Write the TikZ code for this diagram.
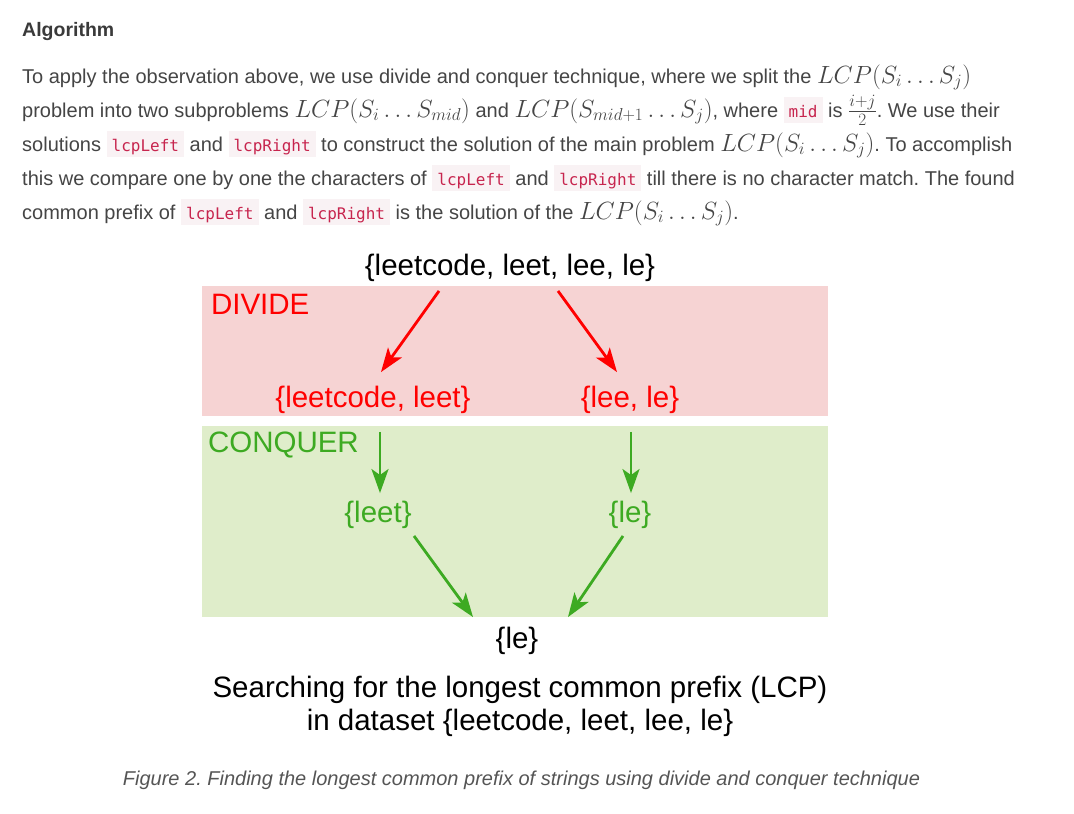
\documentclass[tikz,border=0pt]{standalone}
\usepackage[no-math]{fontspec}
\setmainfont{Liberation Sans}
\newfontfamily\codefont{DejaVu Sans Mono}
\usepackage{xcolor}
\usepackage{tikz}
\usetikzlibrary{arrows.meta,positioning,calc}
\definecolor{headgray}{HTML}{3A3A3A}
\definecolor{bodygray}{HTML}{454545}
\definecolor{capgray}{HTML}{555555}
\definecolor{codebg}{HTML}{F9F2F4}
\definecolor{codefg}{HTML}{C7254E}
\definecolor{divbg}{HTML}{F6D3D3}
\definecolor{conbg}{HTML}{DFEDCA}
\definecolor{divred}{HTML}{FF0000}
\definecolor{congreen}{HTML}{3DAA22}
\frenchspacing
\newcommand{\mth}[1]{{\fontsize{24.2}{24}\selectfont$#1$}}
\newcommand{\code}[1]{{\setlength{\fboxsep}{0pt}\colorbox{codebg}{\hspace{5pt}\rule[-6pt]{0pt}{26pt}{\fontsize{16}{16}\codefont\color{codefg}#1}\hspace{5pt}}}}
\tikzset{
  head/.style={font=\fontsize{19.5}{22}\selectfont\bfseries, text=headgray, anchor=base west, inner sep=0pt},
  body/.style={font=\fontsize{20}{24}\selectfont, text=bodygray, anchor=base west, inner sep=0pt},
  panel/.style={minimum width=626pt, inner sep=0pt},
  set/.style={font=\fontsize{29.5}{33}\selectfont, inner sep=0pt},
  divset/.style={set, text=divred},
  conset/.style={set, text=congreen},
  lab/.style={set, anchor=west},
  arr/.style={-{Stealth[length=24pt,width=17pt,inset=6pt]}, line width=2.8pt},
  divarr/.style={arr, draw=divred},
  conarr/.style={arr, draw=congreen},
  caption/.style={font=\fontsize{20}{24}\selectfont\itshape, text=capgray, inner sep=0pt}
}
\begin{document}
\begin{tikzpicture}[x=1pt, y=-1pt]
\fill[white] (0,0) rectangle (1074,814);
\useasboundingbox (0,0) rectangle (1074,814);

% text above the figure
\node[head] (algo) at (22,36) {Algorithm};
\node[body] (l1) at (22,83) {To apply the observation above, we use divide and conquer technique, where we split the \mth{LCP(S_i\ldots S_j)}};
\node[body] (l2) at ([yshift=-34pt]l1.base west) {problem into two subproblems \mth{LCP(S_i\ldots S_{mid})} and \mth{LCP(S_{mid+1}\ldots S_j)}, where \code{mid} is \mth{\frac{i+j}{2}}. We use their};
\node[body] (l3) at ([yshift=-34pt]l2.base west) {solutions \code{lcpLeft} and \code{lcpRight} to construct the solution of the main problem \mth{LCP(S_i\ldots S_j)}. To accomplish};
\node[body] (l4) at ([yshift=-34pt]l3.base west) {this we compare one by one the characters of \code{lcpLeft} and \code{lcpRight} till there is no character match. The found};
\node[body] (l5) at ([yshift=-34pt]l4.base west) {common prefix of \code{lcpLeft} and \code{lcpRight} is the solution of the \mth{LCP(S_i\ldots S_j)}.};

% the two phases
\node[panel, fill=divbg, minimum height=130pt] (divide) at (515,351) {};
\node[panel, fill=conbg, minimum height=191pt] (conquer) at (515,521.5) {};
\node[lab, text=divred] (divlab) at ($(divide.north west)+(9,19)$) {DIVIDE};
\node[lab, text=congreen] (conlab) at ($(conquer.north west)+(6,19)$) {CONQUER};

\node[set] (all) at (510,268) {\{leetcode, leet, lee, le\}};
\node[divset] (left) at (373,400) {\{leetcode, leet\}};
\node[divset] (right) at (630,400) {\{lee, le\}};
\node[conset] (leftres) at (378,515) {\{leet\}};
\node[conset] (rightres) at (630,515) {\{le\}};
\node[set] (res) at (517,641) {\{le\}};

\draw[divarr] ($(all.south)+(-71,9)$) -- ($(left.north)+(8,-14)$);
\draw[divarr] ($(all.south)+(48,9)$) -- ($(right.north)+(-13,-14)$);
\draw[conarr] ($(left.south)+(7,18)$) -- ($(leftres.north)+(2,-8)$);
\draw[conarr] ($(right.south)+(1,18)$) -- ($(rightres.north)+(1,-8)$);
\draw[conarr] ($(leftres.south)+(36,7)$) -- ($(res.north)+(-44,-10)$);
\draw[conarr] ($(rightres.south)+(-7,7)$) -- ($(res.north)+(51,-10)$);

\node[set, align=center] (title) at (520,706) {Searching for the longest common prefix (LCP)\\in dataset \{leetcode, leet, lee, le\}};
\node[caption] (cap) at (521.5,780) {Figure 2. Finding the longest common prefix of strings using divide and conquer technique};
\end{tikzpicture}
\end{document}
